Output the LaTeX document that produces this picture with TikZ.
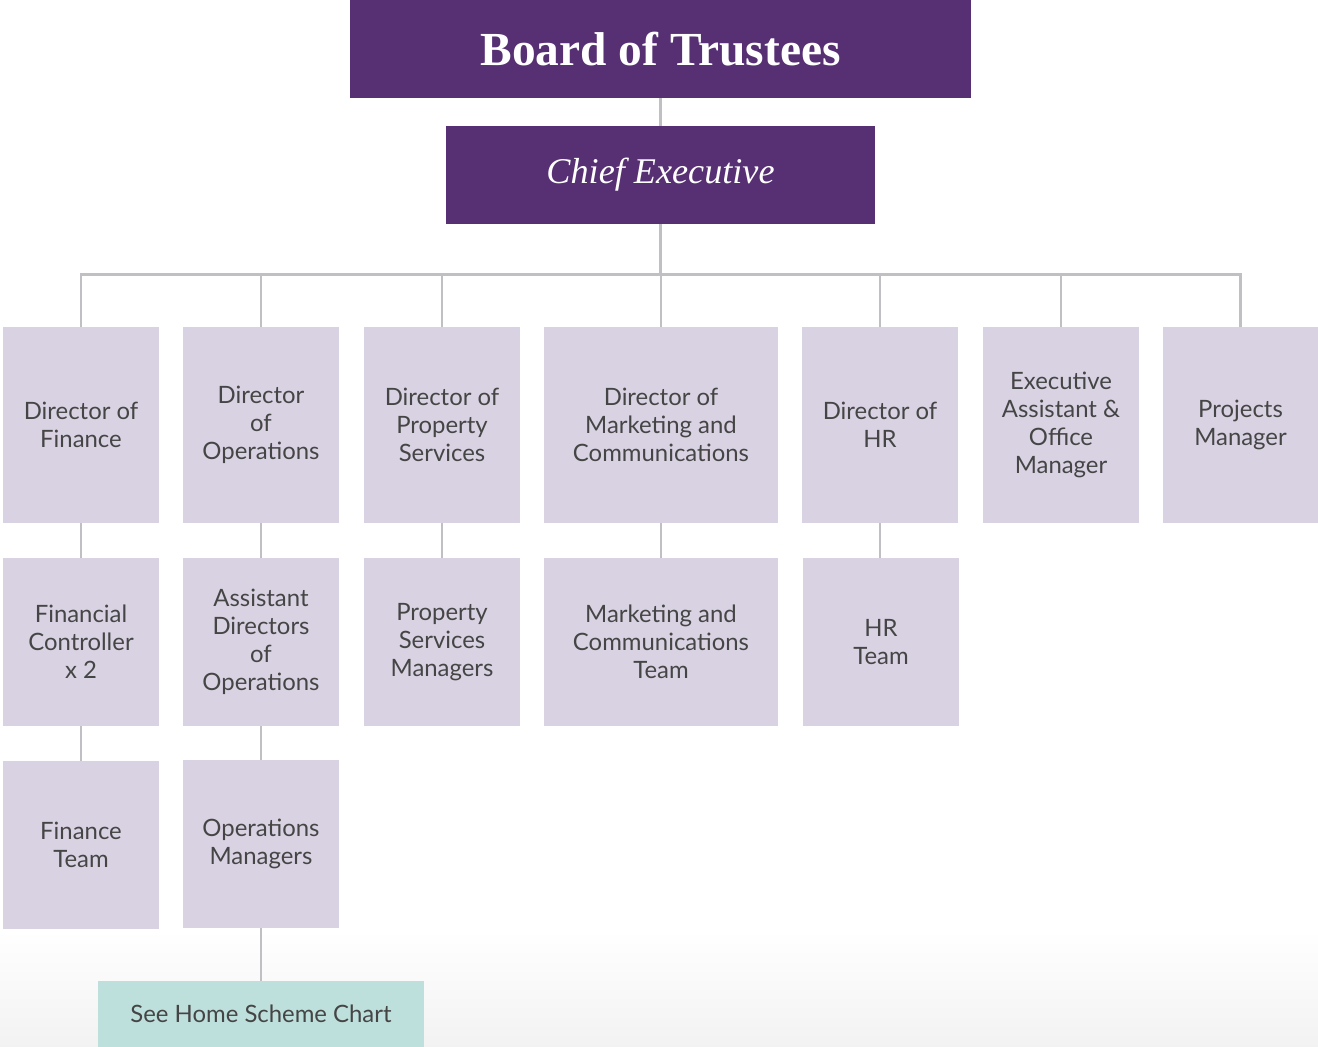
\documentclass[tikz,border=0pt]{standalone}
\usepackage{fontspec}
\setmainfont{Liberation Serif}
\setsansfont{Lato}
\usetikzlibrary{positioning}

\definecolor{trustpurple}{HTML}{573074}
\definecolor{rolelilac}{HTML}{D9D2E3}
\definecolor{linkgrey}{HTML}{C0BFC4}
\definecolor{schemeteal}{HTML}{BEE0DC}
\definecolor{roletext}{HTML}{454545}

\tikzset{
  headbox/.style={fill=trustpurple, text=white, inner sep=0pt, align=center},
  role/.style={fill=rolelilac, text=roletext, inner sep=0pt, align=center,
    minimum width=3.12cm, minimum height=3.92cm,
    font=\sffamily\fontsize{13.6}{15.9}\selectfont},
  subrole/.style={role, minimum height=3.36cm},
  widerole/.style={minimum width=4.68cm},
  link/.style={draw=linkgrey, line width=1.6pt},
}

\begin{document}
\begin{tikzpicture}[x=0.02cm, y=-0.02cm]
    % Rahmen wie im Original
    \useasboundingbox (0,0) rectangle (1318,1047);
    \shade[top color=white, bottom color=black!5, draw=none] (0,930) rectangle (1318,1047);

    % Leitung oben
    \node[headbox, minimum width=12.42cm, minimum height=1.96cm,
      font=\bfseries\fontsize{27}{32}\selectfont] (board) at (660.5,49) {Board of Trustees};
    \node[headbox, minimum width=8.58cm, minimum height=1.96cm,
      font=\itshape\fontsize{20.6}{24}\selectfont] (ce) at (660.5,175) {Chief Executive};

    % Direktoren
    \node[role] (dof) at (81,425) {Director of\\Finance};
    \node[role] (doo) at (261,425) {Director\\of\\Operations};
    \node[role] (dops) at (442,425) {Director of\\Property\\Services};
    \node[role, widerole] (domc) at (661,425) {Director of\\Marketing and\\Communications};
    \node[role] (dohr) at (880,425) {Director of\\HR};
    \node[role] (ea) at (1061,425) {Executive\\Assistant \&\\Office\\Manager};
    \node[role] (pm) at (1240.5,425) {Projects\\Manager};

    % Zweite Ebene
    \node[subrole] (fc) at (81,642) {Financial\\Controller\\x 2};
    \node[subrole] (ado) at (261,642) {Assistant\\Directors\\of\\Operations};
    \node[subrole] (psm) at (442,642) {Property\\Services\\Managers};
    \node[subrole, widerole] (mct) at (661,642) {Marketing and\\Communications\\Team};
    \node[subrole] (hrt) at (881,642) {HR\\Team};

    % Dritte Ebene
    \node[subrole] (ft) at (81,845) {Finance\\Team};
    \node[subrole] (om) at (261,844) {Operations\\Managers};

    % Verweis
    \node[fill=schemeteal, text=roletext, minimum width=6.52cm, minimum height=1.32cm,
      inner sep=0pt, font=\sffamily\fontsize{13.6}{15.9}\selectfont] (sh) at (261,1014) {See Home Scheme Chart};

    % Verbindungen
    \draw[link] (board.south) -- (ce.north);
    \foreach \n in {dof,doo,dops,domc,dohr,ea,pm} {
        \draw[link] (ce.south) -- ++(0,50) -| (\n.north);
    }
    \draw[link] (dof) -- (fc);
    \draw[link] (doo) -- (ado);
    \draw[link] (dops) -- (psm);
    \draw[link] (domc) -- (mct);
    \draw[link] (dohr.south) -- (dohr.south |- hrt.north);
    \draw[link] (fc) -- (ft);
    \draw[link] (ado) -- (om);
    \draw[link] (om.south) -- (om.south |- sh.north);
\end{tikzpicture}
\end{document}
